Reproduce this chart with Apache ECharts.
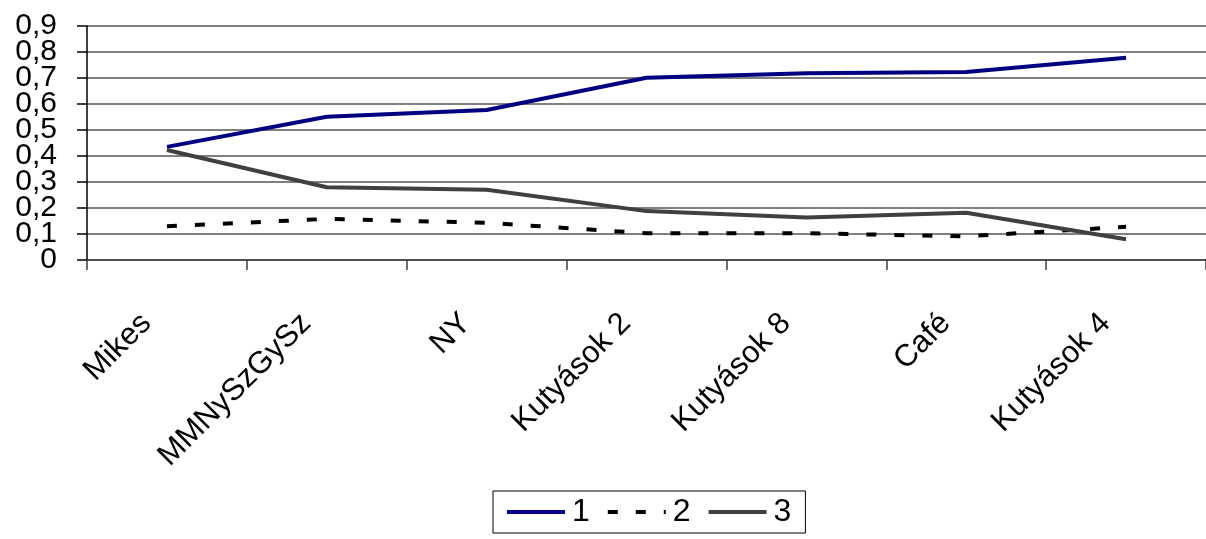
<!DOCTYPE html>
<html>
<head>
<meta charset="utf-8">
<script src="https://cdn.jsdelivr.net/npm/echarts@6/dist/echarts.min.js"></script>
<style>
  html, body { margin: 0; padding: 0; background: #fff; }
  #chart { width: 1206px; height: 539px; }
</style>
</head>
<body>
<div id="chart"></div>
<script>
// Categories along the x axis
const categories = ['Mikes', 'MMNySzGySz', 'NY', 'Kutyások 2', 'Kutyások 8', 'Café', 'Kutyások 4'];

// Series values
const series1 = [0.435, 0.551, 0.577, 0.701, 0.718, 0.723, 0.778];
const series2 = [0.130, 0.158, 0.143, 0.103, 0.103, 0.091, 0.128];
const series3 = [0.423, 0.280, 0.270, 0.188, 0.163, 0.182, 0.080];

const seriesNames = ['1', '2', '3'];

const FONT = 'Liberation Sans, Arial, sans-serif';

// Value axis settings
const Y_MIN = 0;
const Y_MAX = 0.9;
const Y_STEP = 0.1;

// Decimal comma labels; the tick labels are split over two overlaid axes
// (even and odd steps) so that the tightly packed labels are all kept.
function tickText(v, parity) {
  const step = Math.round(v / Y_STEP);
  if (step % 2 !== parity) return '';
  return String(Math.round(v * 10) / 10).replace('.', ',');
}

const labelBase = { margin: 30, fontFamily: FONT, fontSize: 30, color: '#000', hideOverlap: false };

const chart = echarts.init(document.getElementById('chart'), null, { renderer: 'canvas' });

chart.setOption({
  animation: false,
  backgroundColor: '#ffffff',
  grid: { left: 87, top: 26, width: 1127, height: 234, containLabel: false },
  legend: {
    data: seriesNames,
    top: 491,
    left: 493,
    itemWidth: 58,
    itemHeight: 14,
    itemGap: 16,
    padding: [4, 14, 4, 12],
    borderColor: '#000',
    borderWidth: 1,
    borderRadius: 0,
    itemStyle: { opacity: 0 },
    lineStyle: { width: 4 },
    textStyle: { fontFamily: FONT, fontSize: 32, color: '#000', lineHeight: 34, padding: [0, 0, 0, 2] }
  },
  xAxis: {
    type: 'category',
    data: categories,
    boundaryGap: true,
    axisLine: { lineStyle: { color: '#404040', width: 1.5 } },
    axisTick: { show: true, length: 10, alignWithLabel: false, lineStyle: { color: '#404040', width: 1.5 } },
    axisLabel: {
      interval: 0,
      rotate: 45,
      margin: 38,
      fontFamily: FONT,
      fontSize: 31,
      color: '#000',
      padding: [0, 29, 0, 0]
    },
    splitLine: { show: false }
  },
  yAxis: [
    {
      type: 'value',
      min: Y_MIN,
      max: Y_MAX,
      interval: Y_STEP,
      position: 'left',
      axisLine: { show: true, lineStyle: { color: '#000', width: 1.5 } },
      axisTick: { show: true, length: 10, lineStyle: { color: '#000', width: 1.5 } },
      axisLabel: Object.assign({}, labelBase, { formatter: v => tickText(v, 0) }),
      splitLine: { show: true, lineStyle: { color: '#808080', width: 2 } }
    },
    {
      type: 'value',
      min: Y_MIN,
      max: Y_MAX,
      interval: Y_STEP,
      position: 'left',
      offset: 0,
      axisLine: { show: false },
      axisTick: { show: false },
      axisLabel: Object.assign({}, labelBase, { formatter: v => tickText(v, 1) }),
      splitLine: { show: false }
    }
  ],
  series: [
    {
      name: seriesNames[0],
      type: 'line',
      data: series1,
      symbol: 'none',
      color: '#000080',
      lineStyle: { color: '#000080', width: 4 }
    },
    {
      name: seriesNames[1],
      type: 'line',
      data: series2,
      symbol: 'none',
      color: '#000000',
      lineStyle: { color: '#000000', width: 4, type: [10, 18] }
    },
    {
      name: seriesNames[2],
      type: 'line',
      data: series3,
      symbol: 'none',
      color: '#404040',
      lineStyle: { color: '#404040', width: 4 }
    }
  ]
});
</script>
</body>
</html>
